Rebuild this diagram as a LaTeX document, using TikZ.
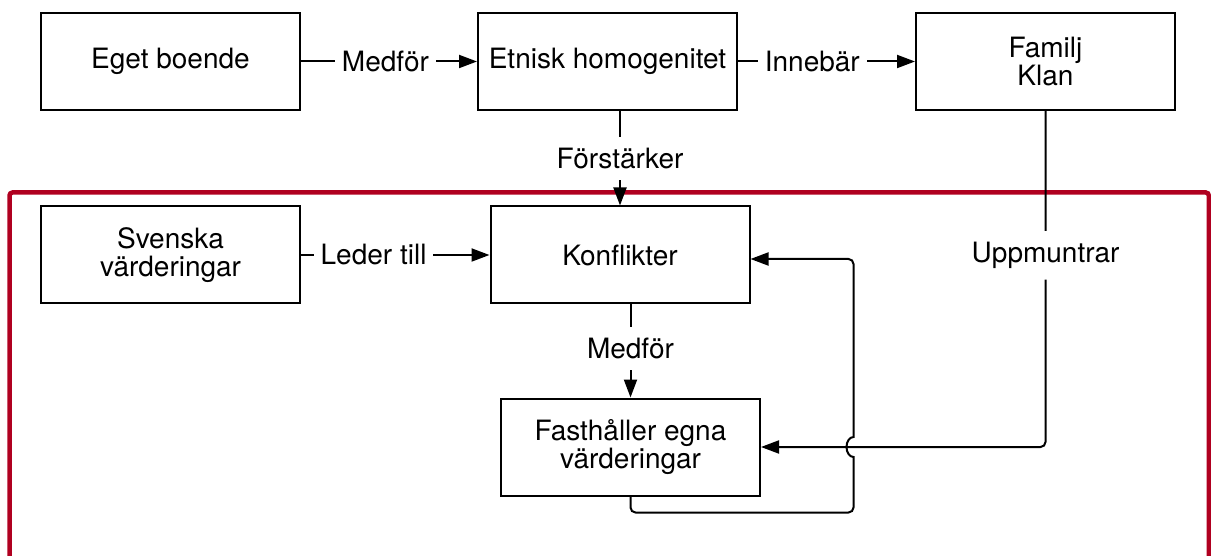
\documentclass[tikz,border=0pt]{standalone}
\usepackage{fontspec}
\setmainfont{TeX Gyre Heros}
\usetikzlibrary{arrows.meta}

\tikzset{
  blk/.style={draw, line width=2, minimum width=259, minimum height=97, inner sep=2, align=center, font=\fontsize{28}{28}\selectfont},
  lbl/.style={fill=white, inner xsep=7, inner ysep=11, font=\fontsize{28}{28}\selectfont},
  conn/.style={line width=2, -{Triangle[length=18pt,width=13pt]}},
}

\begin{document}
\begin{tikzpicture}[x=1pt,y=1pt,yscale=-1,xscale=1]
\useasboundingbox (0,0) rectangle (1211,556);

%Shape: Frame [red, open at the bottom]
\draw [color={rgb, 255:red, 176; green, 0; blue, 32 }, line width=4.5, rounded corners=3] (9.5,556) -- (9.5,192.5) -- (1208.8,192.5) -- (1208.8,556);

%Shape: Rectangle
\node [blk] (eget) at (170.5,61.5) {Eget boende};
%Shape: Rectangle
\node [blk] (etnisk) at (607.5,61.5) {Etnisk homogenitet};
%Shape: Rectangle
\node [blk] (familj) at (1045.5,61.5) {Familj\\Klan};
%Shape: Rectangle
\node [blk] (svenska) at (170.5,255) {Svenska\\värderingar};
%Shape: Rectangle
\node [blk] (konflikter) at (620,255) {Konflikter};
%Shape: Rectangle
\node [blk] (fasth) at (630.5,447) {Fasthåller egna\\värderingar};

%Straight Lines
\draw [conn] (eget) -- node [lbl, pos=0.48] (medfor1) {Medför} (etnisk);
\draw [conn] (etnisk) -- node [lbl, pos=0.42] (innebar) {Innebär} (familj);
\draw [conn] (svenska) -- node [lbl, pos=0.385] (ledertill) {Leder till} (konflikter);
\draw [conn] (etnisk.south -| konflikter.north) -- node [lbl] (forstarker) {Förstärker} (konflikter.north);
\draw [conn] (konflikter.south -| fasth.north) -- node [lbl, pos=0.47] (medfor2) {Medför} (fasth.north);

%Elbow Lines
\draw [conn, rounded corners=5] (familj.south) |- node [lbl, pos=0.215] (uppmuntrar) {Uppmuntrar} (fasth.east);
% loop back, jumping over the line above
\draw [conn, rounded corners=5] (fasth.south) |- (853.5,512.5) [sharp corners] -- (853.5,457) arc [start angle=90, end angle=270, x radius=7, y radius=10] -- (853.5,400) [rounded corners=5] -- (853.5,259) -- ([yshift=4pt]konflikter.east);

\end{tikzpicture}
\end{document}
